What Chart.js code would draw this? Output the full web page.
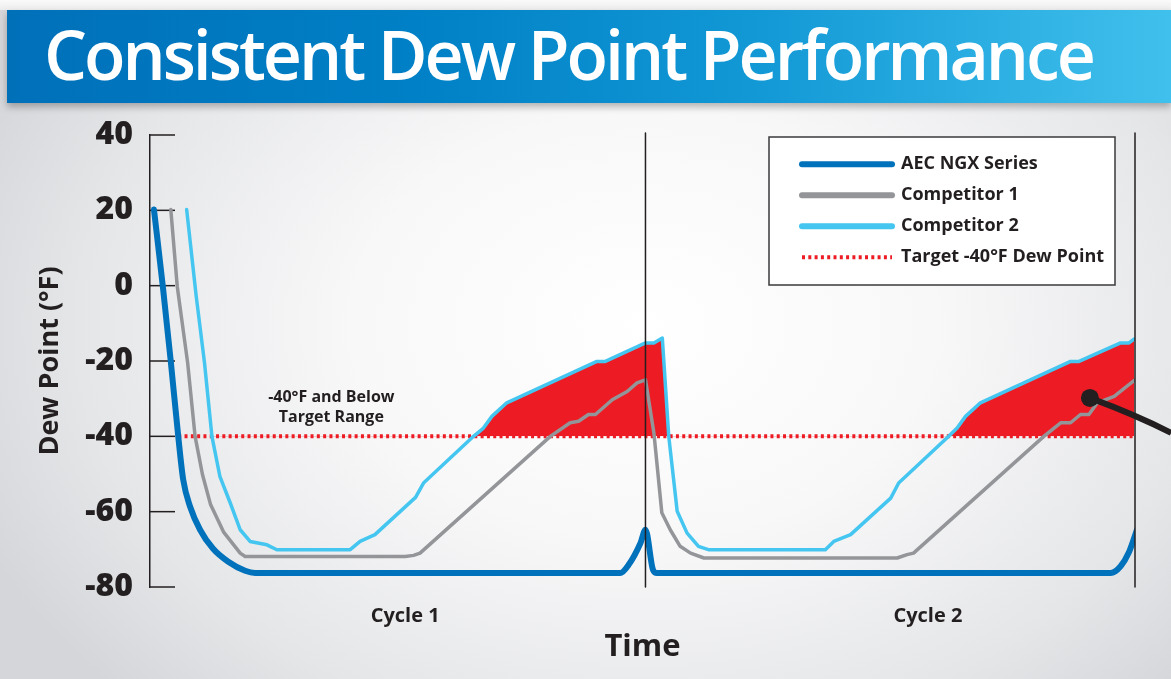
<!DOCTYPE html>
<html>
<head>
<meta charset="utf-8">
<title>Consistent Dew Point Performance</title>
<script src="https://cdn.jsdelivr.net/npm/chart.js@4.4.1/dist/chart.umd.min.js"></script>
<style>
  html, body { margin: 0; padding: 0; }
  body {
    width: 1171px; height: 679px; overflow: hidden; position: relative;
    background: radial-gradient(ellipse 62% 78% at 55% 48%, #ffffff 0%, #f8f8f9 40%, #e5e6e8 78%, #d5d6d9 100%);
  }
  #topStrip { position: absolute; left: 0; top: 0; width: 1171px; height: 10px; background: linear-gradient(180deg, #fafafa, #ececec); }
  #banner {
    position: absolute; left: 7px; top: 10px; width: 1164px; height: 93px; z-index: 2;
    background: linear-gradient(90deg, #0070b9 0%, #0080c6 35%, #1399d6 65%, #40c0ec 100%);
    box-shadow: 0 4px 7px rgba(0, 0, 0, 0.28);
  }
  #title {
    position: absolute; left: 37px; top: 10px; margin: 0;
    color: #ffffff; font-family: "Open Sans", sans-serif; font-weight: 600;
    font-size: 68px; line-height: 68px; white-space: nowrap;
  }
  #chart { position: absolute; left: 0; top: 0; z-index: 1; }
</style>
</head>
<body>
<div id="topStrip"></div>
<div id="banner"><h1 id="title">Consistent Dew Point Performance</h1></div>
<canvas id="chart" width="1171" height="679"></canvas>
<script>
// Data: time (0 to 100 = cycle 1, 100 to 198.8 = cycle 2) and dew point in °F
const tAec = [0.8, 2.6, 4.2, 5.7, 6.7, 8.1, 10.1, 12.7, 15.8, 19.2, 21.2, 94.9, 96.6, 99, 100, 101.5, 102.3, 193.9, 195.9, 197.5, 199.2];
const vAec = [20.2, -0.3, -20.2, -40, -51.5, -58.7, -64.8, -69.8, -73.3, -75.7, -76.3, -76.3, -74.1, -68.3, -64.8, -75.4, -76.3, -76.3, -74.5, -71, -64.8];

const tComp1 = [4.2, 5.5, 7.6, 9.1, 10.6, 12.2, 14.9, 18.2, 19.2, 51.5, 53.2, 54.5, 80.8, 84.8, 86.5, 88.5, 89.9, 93.3, 96.3, 98.3, 100,
  101.7, 103.3, 105, 107, 109.1, 111.8, 150.8, 152.8, 154.1, 180.4, 183.8, 185.8, 187.8, 189.5, 191.2, 194.6, 198.8];
const vComp1 = [20.2, -0.2, -20.5, -40, -50.2, -58, -65.5, -71, -71.9, -71.9, -71.6, -71, -40, -36.4, -36, -34.2, -34.2, -30.3, -28.1, -25.8, -25,
  -39.1, -60.3, -64.8, -69.2, -71, -72.3, -72.3, -71.4, -71, -40, -36.4, -36.4, -34.2, -34.2, -31.1, -29.4, -25];

// Competitor 2: first drop kept apart so only the rise above -40 is shaded
const tComp2Drop = [7.4, 9.3, 11, 12.5];
const vComp2Drop = [20.2, -2.5, -20.5, -40];
const tComp2 = [12.5, 14.1, 16.2, 18.2, 20.2, 23.6, 25.6, 40.4, 42.4, 45.4, 53.6, 55.2, 65.3, 67.3, 69, 72, 90.2, 91.9, 100, 101.7, 103.4,
  104.7, 106.4, 108.4, 110.7, 112.7, 136.3, 138, 141.4, 149.5, 151.1, 161.2, 162.9, 164.6, 167.6, 185.8, 187.5, 195.9, 197.6, 198.6];
const vComp2 = [-40, -50.6, -57.7, -64.8, -67.9, -68.8, -70.1, -70.1, -67.9, -66.1, -56.2, -52.4, -40, -37.8, -34.7, -31.1, -20.1, -20.1, -15.2, -15.2, -13.9,
  -40, -59.9, -65.7, -69.2, -70.1, -70.1, -67.9, -66.1, -56.4, -52.4, -40, -37.8, -34.7, -31.1, -20.1, -20.1, -15.2, -15.2, -14.2];

const targetValue = -40;
const tTarget = [5.7, 198.8];

const cycleEnds = [100, 198.8];
// callout: start (dot), curve control, end
const tCallout = [189.7, 199.3, 206.1];
const vCallout = [-29.8, -34.5, -39.1];

const seriesNames = ['AEC NGX Series', 'Competitor 1', 'Competitor 2', 'Target -40°F Dew Point'];
const xTickAt = [51.5, 157];
const xTickLabels = ['Cycle 1', 'Cycle 2'];
const noteLines = ['-40°F and Below', 'Target Range'];
const noteAt = { x: 36.6, y: -29.7 };

// colores
const DARK = '#231f20';
const BLUE = '#0072bc';
const GREY = '#939598';
const LIGHT_BLUE = '#44c6f0';
const RED = '#ed1c24';

// ajustar el ancho del título
(function () {
  const el = document.getElementById('title');
  const w = el.getBoundingClientRect().width;
  el.style.letterSpacing = ((1052 - w) / (el.textContent.length - 1)) + 'px';
})();

const pts = (xs, ys) => xs.map((x, i) => ({ x, y: ys[i] }));

const lineBase = { pointRadius: 0, pointHoverRadius: 0, tension: 0, borderJoinStyle: 'round', borderCapStyle: 'round', fill: false };

const datasets = [
  { ...lineBase, label: seriesNames[0], data: pts(tAec, vAec), borderColor: BLUE, borderWidth: 6, cubicInterpolationMode: 'monotone', order: 1 },
  { ...lineBase, label: seriesNames[1], data: pts(tComp1, vComp1), borderColor: GREY, borderWidth: 3.5, order: 2 },
  {
    ...lineBase, label: seriesNames[2], data: pts(tComp2, vComp2), borderColor: LIGHT_BLUE, borderWidth: 3.5, order: 3,
    backgroundColor: RED,
    fill: { target: { value: targetValue }, above: RED, below: 'rgba(0,0,0,0)' }
  },
  { ...lineBase, label: 'drop', data: pts(tComp2Drop, vComp2Drop), borderColor: LIGHT_BLUE, borderWidth: 3.5, order: 3, inLegend: false },
  {
    ...lineBase, label: seriesNames[3], data: tTarget.map(x => ({ x, y: targetValue })), borderColor: RED, borderWidth: 4,
    borderDash: [3, 3.3], borderCapStyle: 'butt', order: 4
  },
  ...cycleEnds.map(x => ({
    ...lineBase, label: 'end', data: [{ x, y: 40.5 }, { x, y: -80 }], borderColor: DARK, borderWidth: 1.5,
    borderCapStyle: 'butt', order: 0, clip: false, inLegend: false
  }))
];

// marcas del eje Y hacia adentro, caja de leyenda, nota y línea de llamada
const extras = {
  id: 'extras',
  beforeDraw(chart) {
    const ctx = chart.ctx;
    ctx.save();
    ctx.fillStyle = '#ffffff';
    ctx.fillRect(769, 137, 346, 148);
    ctx.strokeStyle = '#3a3a3c';
    ctx.lineWidth = 1.5;
    ctx.strokeRect(769, 137, 346, 148);
    ctx.restore();
  },
  afterLayout(chart) {
    const lg = chart.legend;
    lg.left = 789; lg.top = 142.3; lg.right = 1110; lg.bottom = 400;
    lg.width = lg.right - lg.left; lg.height = lg.bottom - lg.top;
  },
  beforeDatasetsDraw(chart) {
    const ctx = chart.ctx, y = chart.scales.y, x = chart.scales.x;
    ctx.save();
    ctx.strokeStyle = DARK;
    ctx.lineWidth = 1.5;
    y.ticks.forEach(t => {
      const py = y.getPixelForValue(t.value);
      ctx.beginPath();
      ctx.moveTo(y.right, py);
      ctx.lineTo(y.right + 25, py);
      ctx.stroke();
    });
    ctx.fillStyle = DARK;
    ctx.font = 'bold 16px "Open Sans"';
    ctx.textAlign = 'center';
    ctx.textBaseline = 'middle';
    const px = x.getPixelForValue(noteAt.x), py = y.getPixelForValue(noteAt.y);
    noteLines.forEach((s, i) => ctx.fillText(s, px, py + i * 20));
    ctx.restore();
  },
  afterDatasetsDraw(chart) {
    const ctx = chart.ctx, y = chart.scales.y, x = chart.scales.x;
    const p = tCallout.map((t, i) => [x.getPixelForValue(t), y.getPixelForValue(vCallout[i])]);
    ctx.save();
    ctx.strokeStyle = DARK;
    ctx.fillStyle = DARK;
    ctx.lineWidth = 6;
    ctx.beginPath();
    ctx.moveTo(p[0][0], p[0][1]);
    ctx.quadraticCurveTo(p[1][0], p[1][1], p[2][0], p[2][1]);
    ctx.stroke();
    ctx.beginPath();
    ctx.arc(p[0][0], p[0][1], 9, 0, Math.PI * 2);
    ctx.fill();
    ctx.restore();
  }
};

new Chart(document.getElementById('chart'), {
  type: 'line',
  data: { datasets },
  plugins: [extras],
  options: {
    responsive: false,
    animation: false,
    devicePixelRatio: 1,
    layout: { autoPadding: false, padding: { top: 135, right: 36, bottom: 0, left: 0 } },
    plugins: {
      filler: { drawTime: 'beforeDatasetsDraw' },
      tooltip: { enabled: false },
      legend: {
        position: 'chartArea',
        align: 'start',
        labels: {
          usePointStyle: true,
          pointStyle: 'line',
          pointStyleWidth: 90,
          padding: 13,
          color: DARK,
          font: { family: 'Open Sans', weight: 'bold', size: 18 },
          filter: (item, data) => data.datasets[item.datasetIndex].inLegend !== false,
          generateLabels: function (chart) {
            const items = Chart.defaults.plugins.legend.labels.generateLabels(chart);
            items.forEach(it => {
              const dash = chart.data.datasets[it.datasetIndex].borderDash || [];
              it.lineDash = dash;
              it.lineWidth = dash.length ? 4 : 6;
              it.lineCap = dash.length ? 'butt' : 'round';
              it.pointStyle = 'line';
            });
            return items;
          }
        }
      }
    },
    scales: {
      x: {
        type: 'linear',
        min: 0,
        max: 198.8,
        afterBuildTicks: scale => { scale.ticks = xTickAt.map(v => ({ value: v })); },
        afterFit: scale => { scale.height = 92; },
        grid: { display: false, drawTicks: false },
        border: { display: false },
        ticks: {
          padding: 17,
          autoSkip: false,
          maxRotation: 0,
          color: DARK,
          font: { family: 'Open Sans', weight: 'bold', size: 20 },
          callback: (value, index) => xTickLabels[index]
        },
        title: {
          display: true,
          text: 'Time',
          color: DARK,
          font: { family: 'Open Sans', weight: 'bold', size: 31, lineHeight: 1.2 },
          padding: { top: 0, bottom: 13 }
        }
      },
      y: {
        min: -80,
        max: 40,
        afterFit: scale => { scale.width = 150; },
        grid: { display: false, drawTicks: false },
        border: { display: true, color: DARK, width: 1.5 },
        ticks: {
          stepSize: 20,
          padding: 17,
          color: DARK,
          font: { family: 'Open Sans', weight: 800, size: 32 }
        },
        title: {
          display: true,
          text: 'Dew Point (°F)',
          color: DARK,
          font: { family: 'Open Sans', weight: 'bold', size: 27, lineHeight: 1.2 },
          padding: { top: 34, bottom: 0 }
        }
      }
    }
  }
});
</script>
</body>
</html>
